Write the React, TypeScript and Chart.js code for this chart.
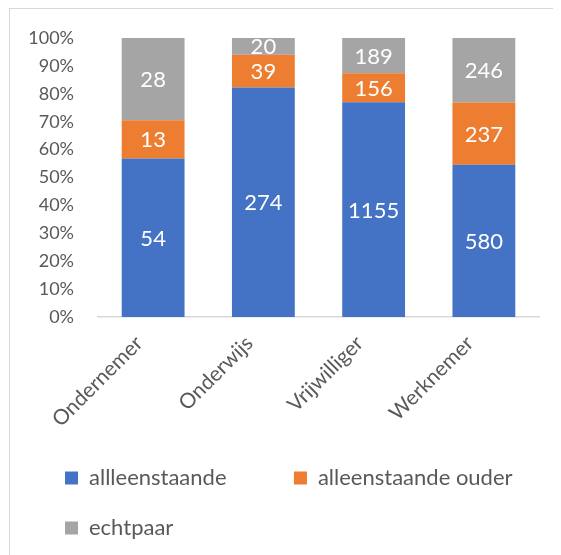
import React, { useEffect, useRef } from "react";
import { Chart, registerables } from "chart.js";

Chart.register(...registerables);

const categories = ["Ondernemer", "Onderwijs", "Vrijwilliger", "Werknemer"];
const seriesNames = ["allleenstaande", "alleenstaande ouder", "echtpaar"];
const allleenstaande = [54, 274, 1155, 580];
const alleenstaandeOuder = [13, 39, 156, 237];
const echtpaar = [28, 20, 189, 246];
const seriesColors = ["#4472C4", "#ED7D31", "#A5A5A5"];

const FONT = "Lato, 'Open Sans', sans-serif";
const TEXT = "#595959";
const LEGEND_SIZE = 22;
const LEGEND_COL_WIDTH = 177;

const seriesValues = [allleenstaande, alleenstaandeOuder, echtpaar];
const totals = categories.map((_, i) =>
  seriesValues.reduce((s, arr) => s + arr[i], 0)
);

const labelPlugin = {
  id: "segLabels",
  afterLayout(chart: any) {
    if (chart.legend) {
      chart.legend.left += 11;
      chart.legend.right += 11;
    }
  },
  afterDatasetsDraw(chart: any) {
    const ctx = chart.ctx;
    ctx.save();
    ctx.fillStyle = "#ffffff";
    ctx.font = `22px ${FONT}`;
    ctx.textAlign = "center";
    ctx.textBaseline = "middle";
    chart.data.datasets.forEach((ds: any, di: number) => {
      const meta = chart.getDatasetMeta(di);
      meta.data.forEach((el: any, i: number) => {
        const { x, y, base } = el.getProps(["x", "y", "base"], true);
        ctx.fillText(String(ds.raw[i]), x, (y + base) / 2 + 1);
      });
    });
    ctx.restore();
  },
};

export default function App() {
  const ref = useRef<HTMLCanvasElement>(null);
  useEffect(() => {
    if (!ref.current) return;
    const datasets = seriesValues.map((arr, si) => ({
      label: seriesNames[si],
      data: arr.map((v, i) => (v / totals[i]) * 100),
      raw: arr,
      backgroundColor: seriesColors[si],
      borderWidth: 0,
      categoryPercentage: 1,
      barPercentage: 0.57,
    }));
    const padLabel = (c: any, text: string) => {
      const ctx = c.ctx;
      ctx.save();
      ctx.font = `${LEGEND_SIZE}px ${FONT}`;
      const w = ctx.measureText(text).width;
      const sw = ctx.measureText(" ").width || 5;
      ctx.restore();
      const n = Math.max(0, Math.round((LEGEND_COL_WIDTH - w) / sw));
      return text + " ".repeat(n);
    };
    const chart = new Chart(ref.current, {
      type: "bar",
      data: { labels: categories, datasets: datasets as any },
      plugins: [labelPlugin],
      options: {
        animation: false,
        responsive: false,
        maintainAspectRatio: false,
        layout: { padding: { left: 16, right: 22, top: 13, bottom: 6 } },
        scales: {
          x: {
            stacked: true,
            grid: { display: false },
            border: { display: true, color: "#d9d9d9", width: 1.5 },
            afterFit: (s: any) => {
              s.height = 122;
            },
            ticks: {
              color: TEXT,
              font: { family: FONT, size: 21 },
              minRotation: 45,
              maxRotation: 45,
              padding: 6,
              labelOffset: -14,
            },
          },
          y: {
            stacked: true,
            min: 0,
            max: 100,
            grid: { display: false, drawTicks: false },
            border: { display: false },
            afterFit: (s: any) => {
              s.width = 72;
              s.paddingTop = 29;
              s.paddingBottom = 12;
            },
            ticks: {
              stepSize: 10,
              color: TEXT,
              font: { family: FONT, size: 18 },
              padding: 24,
              callback: (v: any) => `${v}%`,
            },
          },
        },
        plugins: {
          tooltip: { enabled: false },
          legend: {
            position: "bottom",
            align: "start",
            labels: {
              color: TEXT,
              font: { family: FONT, size: LEGEND_SIZE },
              boxWidth: 13,
              boxHeight: 13,
              padding: 28,
              generateLabels: (c: any) =>
                c.data.datasets.map((ds: any, i: number) => ({
                  text: i === 0 ? padLabel(c, ds.label) : ds.label,
                  fillStyle: ds.backgroundColor,
                  strokeStyle: ds.backgroundColor,
                  lineWidth: 0,
                  fontColor: TEXT,
                  hidden: false,
                  datasetIndex: i,
                })),
            },
          },
        },
      },
    });
    return () => chart.destroy();
  }, []);
  return (
    <div
      style={{
        marginLeft: 1,
        width: 552,
        height: 547,
        borderLeft: "1px solid #d9d9d9",
        borderTop: "1px solid #d9d9d9",
        boxSizing: "border-box",
      }}
    >
      <canvas ref={ref} width={551} height={546} style={{ display: "block" }} />
    </div>
  );
}
